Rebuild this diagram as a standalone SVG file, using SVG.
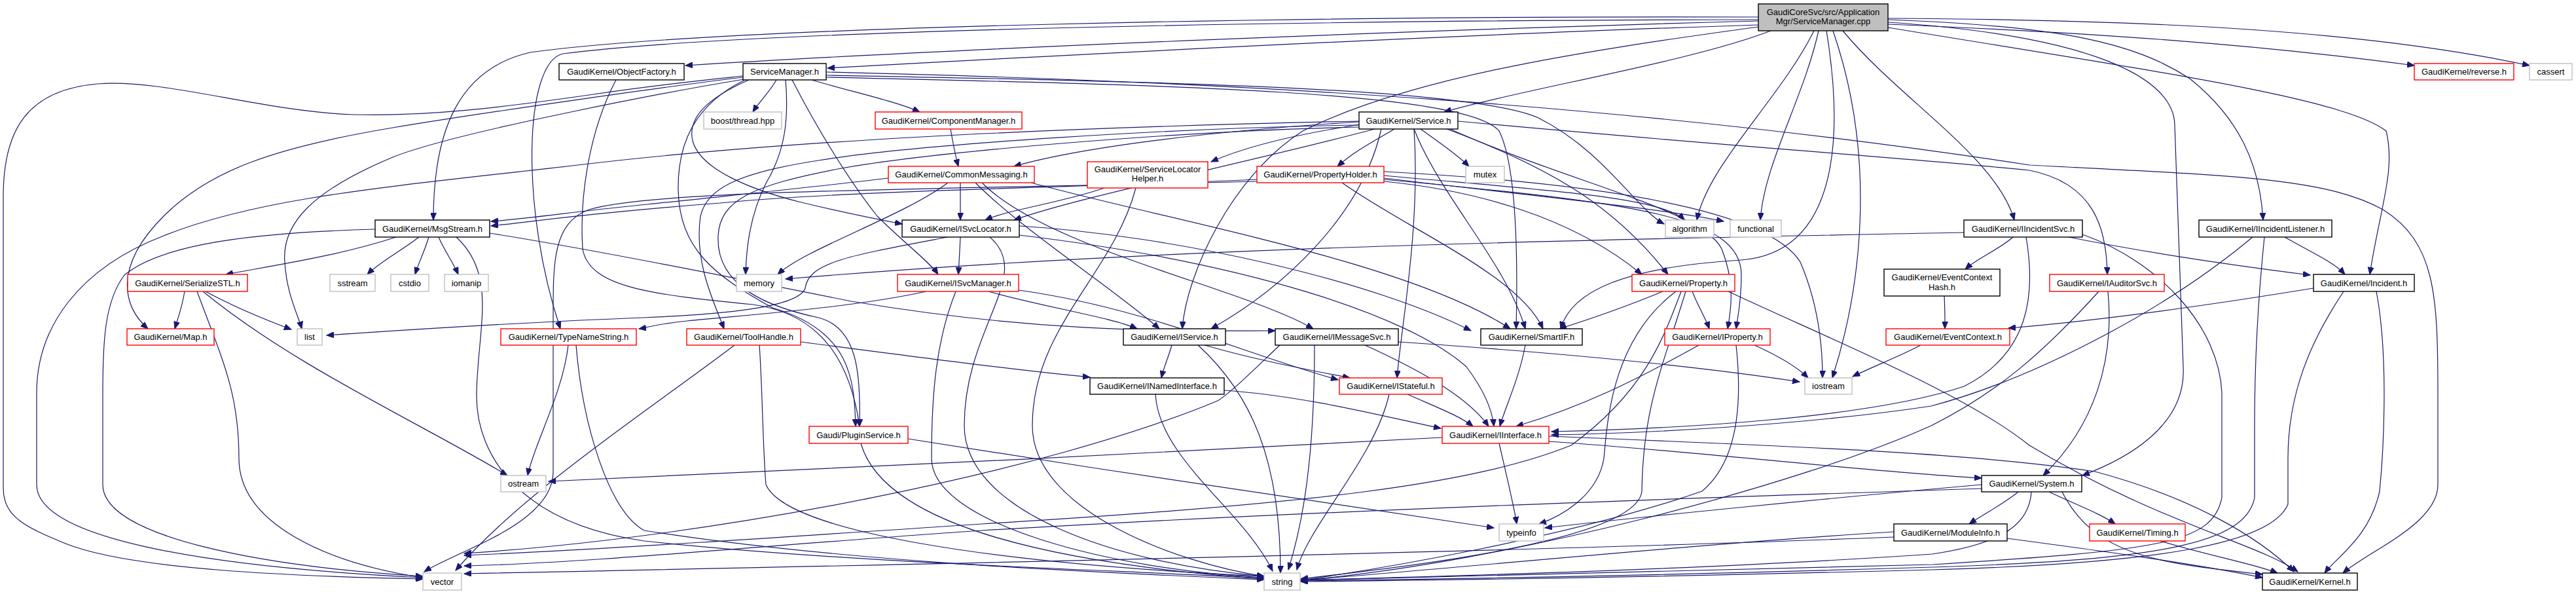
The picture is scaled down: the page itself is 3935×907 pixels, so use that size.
<svg xmlns="http://www.w3.org/2000/svg" width="3935" height="907" viewBox="0 0 3935 907">
<defs>
<marker id="ah" markerUnits="userSpaceOnUse" markerWidth="12" markerHeight="9" refX="11" refY="4.5" orient="auto"><path d="M0,0 L11,4.5 L0,9 z" fill="#191970" stroke="#191970" stroke-width="1"/></marker>
<style>
.e path{fill:none;stroke:#191970;stroke-width:1.2;marker-end:url(#ah)}
rect{fill:#fff;stroke-width:1.4}
.k rect{stroke:#000}
.r rect{stroke:#ff0000}
.g rect{stroke:#bfbfbf}
.c rect{fill:#bfbfbf;stroke:#000}
text{font-family:"Liberation Sans",Arial,sans-serif;font-size:13px;text-anchor:middle;fill:#000}
</style>
</defs>
<rect x="0" y="0" width="3935" height="907" style="fill:#fff;stroke:none"/>
<g id="edges" class="e">
<path d="M2686,32 C2200,45 1500,72 1047,100"/>
<path d="M2686,38 C2250,52 1700,80 1264,104"/>
<path d="M2686,26 C2000,24 1100,40 810,80 C700,105 662,200 662,336"/>
<path d="M2686,30 C2000,31 1150,45 860,82 C800,95 795,320 856,502"/>
<path d="M2705,47 C2580,95 2330,135 2206,171"/>
<path d="M2686,41 C2400,80 2150,120 1990,200 C1880,270 1812,420 1806,502"/>
<path d="M2771,47 C2720,150 2610,250 2592,336"/>
<path d="M2778,47 C2755,150 2695,250 2689,336"/>
<path d="M2790,47 C2815,200 2812,385 2660,397 C2480,408 2400,445 2384,502"/>
<path d="M2800,47 C2870,250 2840,450 2799,577"/>
<path d="M2815,47 C2900,150 3050,240 3077,336"/>
<path d="M2884,34 C3200,55 3320,120 3322,190 L3335,560 C3340,650 3250,700 3181,726"/>
<path d="M2884,30 C3150,40 3260,65 3345,120 C3420,180 3452,250 3457,336"/>
<path d="M2884,42 C3300,110 3580,150 3645,200 C3660,260 3635,320 3620,419"/>
<path d="M2884,37 C3200,50 3450,68 3688,100"/>
<path d="M2884,28 C3300,30 3620,48 3864,100"/>
<path d="M1186,122 C1176,140 1160,155 1150,171"/>
<path d="M1240,122 C1300,140 1370,155 1405,171"/>
<path d="M1135,116 C1060,124 1000,130 900,145 C760,165 650,178 540,175 C400,170 250,120 150,128 C40,137 5,200 5,300 L5,745 C5,790 40,805 100,830 C200,870 450,880 646,884"/>
<path d="M1135,118 C1050,128 750,170 600,195 C420,225 320,260 250,330 C170,410 190,470 226,502"/>
<path d="M1137,121 C1050,135 700,200 600,240 C480,290 430,340 435,400 C438,450 455,480 461,502"/>
<path d="M1200,122 C1205,180 1200,230 1170,280 C1145,330 1140,380 1139,419"/>
<path d="M1144,122 C1080,150 1050,180 1058,215 C1070,260 1150,290 1220,308 C1290,325 1340,335 1378,342"/>
<path d="M1210,122 C1250,200 1300,280 1340,330 C1380,370 1420,400 1433,419"/>
<path d="M1138,122 C1060,160 1035,220 1036,290 C1038,380 1090,420 1180,470 C1300,505 1305,580 1307,651"/>
<path d="M1262,110 C1900,125 2500,160 3100,252 C3400,268 3550,270 3640,320 C3720,370 3724,450 3724,600 L3724,740 C3724,800 3620,840 3579,875"/>
<path d="M1262,115 C1800,125 2250,135 2350,180 C2450,230 2500,320 2542,342"/>
<path d="M1262,118 C1800,130 2240,140 2290,200 C2320,260 2318,420 2316,502"/>
<path d="M941,122 C900,200 885,300 890,380 C900,440 1000,450 1150,465 C1260,480 1300,560 1313,651"/>
<path d="M1452,197 C1456,220 1460,240 1464,254"/>
<path d="M2076,186 C1850,200 1650,225 1549,254"/>
<path d="M2078,190 C1980,205 1900,225 1850,247"/>
<path d="M2130,197 C2100,215 2070,230 2043,254"/>
<path d="M2170,197 C2195,215 2225,235 2244,254"/>
<path d="M2076,185 C1600,195 1200,215 900,250 C600,285 400,300 250,360 C120,410 56,500 56,600 L56,740 C56,820 300,865 646,882"/>
<path d="M2100,197 C1900,250 1650,300 1549,336"/>
<path d="M2110,197 C2080,330 1960,440 1850,502"/>
<path d="M2160,197 C2170,350 2140,500 2134,577"/>
<path d="M2210,197 C2380,260 2470,320 2548,419"/>
<path d="M2160,197 C2200,300 2300,400 2330,502"/>
<path d="M2076,191 C1800,195 1400,220 1250,245 C1120,265 1080,290 1070,330 C1060,400 1090,460 1106,502"/>
<path d="M2076,194 C1800,200 1420,232 1280,258 C1150,283 1100,305 1097,360 C1093,440 1180,470 1250,485 C1310,500 1315,570 1313,651"/>
<path d="M2227,185 C2600,220 2900,240 3100,260 C3200,280 3218,350 3219,419"/>
<path d="M2215,197 C2400,280 2600,320 2630,380 C2650,430 2645,470 2639,502"/>
<path d="M1357,272 C1250,285 1100,300 990,312 C900,320 800,335 750,338"/>
<path d="M1467,279 C1467,300 1467,315 1467,336"/>
<path d="M1448,279 C1380,330 1230,380 1188,419"/>
<path d="M1490,279 C1560,350 1700,440 1771,502"/>
<path d="M1500,279 C1600,380 1900,440 2006,502"/>
<path d="M1575,279 C1800,340 2150,400 2307,502"/>
<path d="M1687,287 C1620,310 1540,320 1505,336"/>
<path d="M1735,287 C1700,420 1577,500 1577,650 C1577,780 1800,860 1931,880"/>
<path d="M1920,274 C1700,285 1300,290 1100,310 C900,325 800,340 750,345"/>
<path d="M1920,277 C1400,290 1000,290 900,320 C845,340 845,400 845,480 L845,720 C845,800 700,840 648,873"/>
<path d="M2114,268 C2350,290 2540,300 2573,336"/>
<path d="M2114,272 C2350,300 2550,320 2633,338"/>
<path d="M2114,277 C2250,290 2400,330 2508,419"/>
<path d="M2114,274 C2500,310 2660,330 2660,420 C2660,460 2655,480 2652,502"/>
<path d="M2050,279 C2150,350 2320,420 2357,502"/>
<path d="M2114,262 C2450,280 2700,320 2750,400 C2780,470 2784,540 2784,577"/>
<path d="M605,362 C520,390 420,405 345,419"/>
<path d="M640,362 C610,385 580,400 561,419"/>
<path d="M655,362 C648,385 640,400 634,419"/>
<path d="M670,362 C680,385 692,400 700,419"/>
<path d="M573,350 C400,355 250,370 190,420 C160,460 157,520 157,600 L157,740 C157,820 400,865 646,880"/>
<path d="M748,356 C900,380 1100,420 1300,460 C1600,510 1800,505 1948,505"/>
<path d="M697,362 C760,420 730,500 728,600 C726,700 800,800 984,826 C1300,860 1700,870 1931,883"/>
<path d="M282,445 C278,470 272,485 267,502"/>
<path d="M314,445 C360,470 410,490 445,503"/>
<path d="M301,445 C340,550 365,600 365,700 C365,800 500,860 646,882"/>
<path d="M310,445 C450,560 650,650 775,726"/>
<path d="M868,527 C860,600 815,680 806,726"/>
<path d="M880,527 C890,650 930,780 984,810 C1300,860 1700,875 1931,885"/>
<path d="M1467,362 C1466,385 1465,400 1464,419"/>
<path d="M1448,362 C1300,390 1235,400 1230,440 C1220,470 1100,480 984,485 C800,492 600,505 499,512"/>
<path d="M1557,345 C1800,360 2100,430 2247,505"/>
<path d="M1512,362 C1580,420 1473,500 1473,650 C1473,780 1700,860 1931,880"/>
<path d="M1557,359 C1900,400 2150,480 2240,560 C2270,600 2280,630 2282,651"/>
<path d="M1415,445 C1300,470 1150,480 1050,490 C1000,495 990,500 976,502"/>
<path d="M1510,445 C1600,470 1700,485 1737,502"/>
<path d="M1460,445 C1430,520 1423,600 1423,700 C1423,800 1700,870 1931,882"/>
<path d="M1556,443 C1750,470 1900,540 2044,580"/>
<path d="M1122,527 C1000,620 800,750 696,871"/>
<path d="M1223,522 C1400,545 1550,565 1665,576"/>
<path d="M1160,527 C1165,600 1165,680 1170,740 C1200,810 1500,860 1931,880"/>
<path d="M1790,527 C1785,545 1778,560 1774,577"/>
<path d="M1840,527 C1920,550 2000,565 2062,577"/>
<path d="M1830,527 C1910,600 1956,700 1956,875"/>
<path d="M2136,522 C2400,540 2600,560 2749,583"/>
<path d="M2085,527 C2180,570 2245,610 2274,651"/>
<path d="M2008,527 C2008,700 1990,800 1968,870"/>
<path d="M1955,527 C1920,560 1880,600 1860,612 C1600,720 1100,820 709,845"/>
<path d="M1870,596 C2000,605 2130,640 2201,654"/>
<path d="M1765,602 C1770,700 1900,780 1944,872"/>
<path d="M2150,602 C2190,620 2230,635 2250,651"/>
<path d="M2122,602 C2100,700 2000,800 1981,870"/>
<path d="M2330,527 C2320,580 2300,620 2291,651"/>
<path d="M2585,445 C2595,470 2605,485 2611,502"/>
<path d="M2540,445 C2480,470 2420,490 2382,502"/>
<path d="M2560,445 C2460,520 2455,650 2450,700 C2440,760 2380,790 2351,800"/>
<path d="M2575,445 C2540,560 2510,620 2508,750 C2500,830 2100,870 1987,884"/>
<path d="M2568,445 C2540,520 2510,600 2400,680 C2250,740 2000,770 1500,800 C1200,820 900,840 709,848"/>
<path d="M2640,445 C2800,520 3000,600 3100,680 C3300,800 3450,830 3510,873"/>
<path d="M2680,527 C2720,545 2745,560 2762,577"/>
<path d="M2595,527 C2500,580 2420,620 2316,651"/>
<path d="M2652,527 C2660,600 2660,700 2600,750 C2400,820 2100,870 1987,886"/>
<path d="M2290,677 C2300,720 2312,770 2317,800"/>
<path d="M2203,668 C1800,690 1200,720 838,735"/>
<path d="M2366,674 C2600,690 2850,720 3027,730"/>
<path d="M2366,666 C2700,680 3000,690 3200,720 C3350,760 3450,820 3504,873"/>
<path d="M2934,527 C2900,545 2860,560 2830,575"/>
<path d="M2970,452 C2971,470 2971,485 2971,502"/>
<path d="M3075,362 C3055,380 3020,395 3002,411"/>
<path d="M3000,355 C2500,365 1800,375 1200,426"/>
<path d="M3160,362 C3300,390 3450,410 3529,420"/>
<path d="M3095,362 C3110,450 3100,540 3000,590 C2850,640 2550,655 2370,659"/>
<path d="M3441,362 C3300,480 3100,580 2950,620 C2750,650 2500,662 2370,664"/>
<path d="M3206,445 C3120,540 3050,600 2950,650 C2750,740 2300,860 1987,886"/>
<path d="M3181,358 C3300,400 3390,500 3394,600 L3394,760 C3380,830 3300,840 2952,862 C2500,875 2200,880 1987,886"/>
<path d="M3459,362 C3450,450 3444,550 3444,650 L3444,760 C3430,830 3300,855 2952,866 C2500,880 2200,884 1987,887"/>
<path d="M3580,445 C3530,520 3495,600 3495,700 L3495,770 C3470,830 3300,860 2952,870 C2500,882 2200,886 1987,888"/>
<path d="M3220,445 C3230,550 3200,650 3121,726"/>
<path d="M3490,362 C3530,385 3565,400 3582,419"/>
<path d="M3534,440 C3350,470 3200,490 3068,501"/>
<path d="M3630,445 C3650,550 3640,700 3635,750 C3620,820 3570,850 3551,875"/>
<path d="M3083,751 C3060,770 3030,785 3008,800"/>
<path d="M3130,751 C3170,770 3210,785 3231,800"/>
<path d="M3027,740 C2800,760 2500,790 2360,806"/>
<path d="M3150,751 C3200,850 3300,860 3456,877"/>
<path d="M3027,746 C2600,760 2000,780 1500,810 C1200,830 900,860 709,864"/>
<path d="M3103,751 C3100,800 3060,830 2952,846 C2600,870 2200,880 1987,886"/>
<path d="M3066,822 C3200,840 3350,860 3456,882"/>
<path d="M2893,812 C2600,830 2200,870 1987,886"/>
<path d="M2893,820 C2400,840 1500,860 709,876"/>
<path d="M3300,826 C3380,850 3440,860 3479,875"/>
<path d="M1387,670 C1700,720 2100,780 2282,806"/>
<path d="M1315,677 C1350,800 1600,860 1931,884"/>
</g>
<g id="n-cpp" class="c"><rect x="2686" y="6" width="198" height="41"/><text x="2785" y="23">GaudiCoreSvc/src/Application</text><text x="2785" y="37">Mgr/ServiceManager.cpp</text></g>
<g id="n-objectfactory" class="k"><rect x="854" y="97" width="191" height="25"/><text x="949.5" y="114">GaudiKernel/ObjectFactory.h</text></g>
<g id="n-servicemanager" class="k"><rect x="1135" y="97" width="127" height="25"/><text x="1198.5" y="114">ServiceManager.h</text></g>
<g id="n-boost" class="g"><rect x="1075" y="171" width="119" height="26"/><text x="1134.5" y="188.5">boost/thread.hpp</text></g>
<g id="n-componentmanager" class="r"><rect x="1337" y="171" width="224" height="26"/><text x="1449" y="188.5">GaudiKernel/ComponentManager.h</text></g>
<g id="n-commonmessaging" class="r"><rect x="1357" y="254" width="223" height="25"/><text x="1468.5" y="271">GaudiKernel/CommonMessaging.h</text></g>
<g id="n-servicelocatorhelper" class="r"><rect x="1661" y="247" width="184" height="40"/><text x="1753" y="263">GaudiKernel/ServiceLocator</text><text x="1753" y="277">Helper.h</text></g>
<g id="n-propertyholder" class="r"><rect x="1920" y="254" width="194" height="25"/><text x="2017" y="271">GaudiKernel/PropertyHolder.h</text></g>
<g id="n-service" class="k"><rect x="2076" y="171" width="151" height="26"/><text x="2151.5" y="188.5">GaudiKernel/Service.h</text></g>
<g id="n-mutex" class="g"><rect x="2239" y="254" width="59" height="25"/><text x="2268.5" y="271">mutex</text></g>
<g id="n-reverse" class="r"><rect x="3688" y="97" width="152" height="25"/><text x="3764" y="114">GaudiKernel/reverse.h</text></g>
<g id="n-cassert" class="g"><rect x="3864" y="97" width="65" height="25"/><text x="3896.5" y="114">cassert</text></g>
<g id="n-msgstream" class="k"><rect x="573" y="336" width="175" height="26"/><text x="660.5" y="353.5">GaudiKernel/MsgStream.h</text></g>
<g id="n-serializestl" class="r"><rect x="195" y="419" width="183" height="26"/><text x="286.5" y="436.5">GaudiKernel/SerializeSTL.h</text></g>
<g id="n-sstream" class="g"><rect x="504" y="419" width="69" height="26"/><text x="538.5" y="436.5">sstream</text></g>
<g id="n-cstdio" class="g"><rect x="597" y="419" width="58" height="26"/><text x="626" y="436.5">cstdio</text></g>
<g id="n-iomanip" class="g"><rect x="679" y="419" width="67" height="26"/><text x="712.5" y="436.5">iomanip</text></g>
<g id="n-map" class="r"><rect x="194" y="502" width="133" height="25"/><text x="260.5" y="519">GaudiKernel/Map.h</text></g>
<g id="n-list" class="g"><rect x="454" y="502" width="38" height="25"/><text x="473" y="519">list</text></g>
<g id="n-typenamestring" class="r"><rect x="765" y="502" width="207" height="25"/><text x="868.5" y="519">GaudiKernel/TypeNameString.h</text></g>
<g id="n-isvclocator" class="k"><rect x="1378" y="336" width="179" height="26"/><text x="1467.5" y="353.5">GaudiKernel/ISvcLocator.h</text></g>
<g id="n-memory" class="g"><rect x="1125" y="419" width="69" height="26"/><text x="1159.5" y="436.5">memory</text></g>
<g id="n-isvcmanager" class="r"><rect x="1371" y="419" width="185" height="26"/><text x="1463.5" y="436.5">GaudiKernel/ISvcManager.h</text></g>
<g id="n-toolhandle" class="r"><rect x="1049" y="502" width="174" height="25"/><text x="1136" y="519">GaudiKernel/ToolHandle.h</text></g>
<g id="n-iservice" class="k"><rect x="1716" y="502" width="156" height="25"/><text x="1794" y="519">GaudiKernel/IService.h</text></g>
<g id="n-imessagesvc" class="k"><rect x="1948" y="502" width="188" height="25"/><text x="2042" y="519">GaudiKernel/IMessageSvc.h</text></g>
<g id="n-inamedinterface" class="k"><rect x="1665" y="577" width="205" height="25"/><text x="1767.5" y="594">GaudiKernel/INamedInterface.h</text></g>
<g id="n-algorithm" class="g"><rect x="2544" y="336" width="74" height="26"/><text x="2581" y="353.5">algorithm</text></g>
<g id="n-functional" class="g"><rect x="2643" y="336" width="78" height="26"/><text x="2682" y="353.5">functional</text></g>
<g id="n-property" class="r"><rect x="2493" y="419" width="157" height="26"/><text x="2571.5" y="436.5">GaudiKernel/Property.h</text></g>
<g id="n-smartif" class="k"><rect x="2262" y="502" width="155" height="25"/><text x="2339.5" y="519">GaudiKernel/SmartIF.h</text></g>
<g id="n-iproperty" class="r"><rect x="2543" y="502" width="161" height="25"/><text x="2623.5" y="519">GaudiKernel/IProperty.h</text></g>
<g id="n-istateful" class="r"><rect x="2046" y="577" width="157" height="25"/><text x="2124.5" y="594">GaudiKernel/IStateful.h</text></g>
<g id="n-iostream" class="g"><rect x="2757" y="577" width="72" height="25"/><text x="2793" y="594">iostream</text></g>
<g id="n-eventcontexthash" class="k"><rect x="2878" y="411" width="177" height="41"/><text x="2966.5" y="428">GaudiKernel/EventContext</text><text x="2966.5" y="443">Hash.h</text></g>
<g id="n-eventcontext" class="r"><rect x="2881" y="502" width="189" height="25"/><text x="2975.5" y="519">GaudiKernel/EventContext.h</text></g>
<g id="n-iincidentsvc" class="k"><rect x="3000" y="336" width="181" height="26"/><text x="3090.5" y="353.5">GaudiKernel/IIncidentSvc.h</text></g>
<g id="n-iauditorsvc" class="r"><rect x="3131" y="419" width="175" height="26"/><text x="3218.5" y="436.5">GaudiKernel/IAuditorSvc.h</text></g>
<g id="n-iincidentlistener" class="k"><rect x="3359" y="336" width="203" height="26"/><text x="3460.5" y="353.5">GaudiKernel/IIncidentListener.h</text></g>
<g id="n-incident" class="k"><rect x="3534" y="419" width="154" height="26"/><text x="3611" y="436.5">GaudiKernel/Incident.h</text></g>
<g id="n-ostream" class="g"><rect x="765" y="726" width="69" height="25"/><text x="799.5" y="743">ostream</text></g>
<g id="n-vector" class="g"><rect x="646" y="875" width="59" height="26"/><text x="675.5" y="892.5">vector</text></g>
<g id="n-pluginservice" class="r"><rect x="1236" y="651" width="151" height="26"/><text x="1311.5" y="668.5">Gaudi/PluginService.h</text></g>
<g id="n-string" class="g"><rect x="1931" y="875" width="55" height="26"/><text x="1958.5" y="892.5">string</text></g>
<g id="n-iinterface" class="r"><rect x="2203" y="651" width="163" height="26"/><text x="2284.5" y="668.5">GaudiKernel/IInterface.h</text></g>
<g id="n-typeinfo" class="g"><rect x="2290" y="800" width="68" height="26"/><text x="2324" y="817.5">typeinfo</text></g>
<g id="n-moduleinfo" class="k"><rect x="2893" y="800" width="173" height="26"/><text x="2979.5" y="817.5">GaudiKernel/ModuleInfo.h</text></g>
<g id="n-system" class="k"><rect x="3027" y="726" width="153" height="25"/><text x="3103.5" y="743">GaudiKernel/System.h</text></g>
<g id="n-timing" class="r"><rect x="3192" y="800" width="146" height="26"/><text x="3265" y="817.5">GaudiKernel/Timing.h</text></g>
<g id="n-kernel" class="k"><rect x="3456" y="875" width="145" height="26"/><text x="3528.5" y="892.5">GaudiKernel/Kernel.h</text></g>
</svg>
